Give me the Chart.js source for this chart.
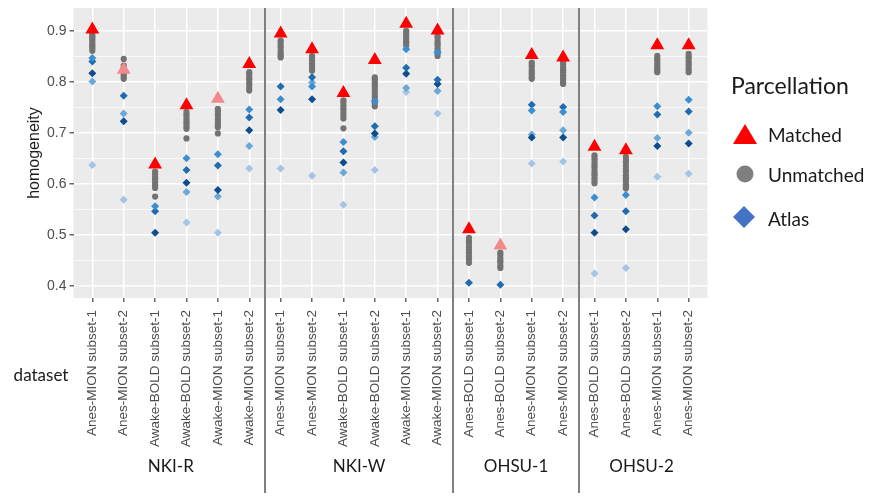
<!DOCTYPE html>
<html>
<head>
<meta charset="utf-8">
<script src="https://cdn.jsdelivr.net/npm/chart.js"></script>
<style>
  html, body { margin: 0; padding: 0; background: #fff; }
</style>
</head>
<body>
<canvas id="myChart" width="873" height="496"></canvas>
<script>
// categories on the x axis, grouped by dataset
const categories = [
    'Anes-MION subset-1', 'Anes-MION subset-2', 'Awake-BOLD subset-1', 'Awake-BOLD subset-2', 'Awake-MION subset-1', 'Awake-MION subset-2',
    'Anes-MION subset-1', 'Anes-MION subset-2', 'Awake-BOLD subset-1', 'Awake-BOLD subset-2', 'Awake-MION subset-1', 'Awake-MION subset-2',
    'Anes-BOLD subset-1', 'Anes-BOLD subset-2', 'Anes-MION subset-1', 'Anes-MION subset-2',
    'Anes-BOLD subset-1', 'Anes-BOLD subset-2', 'Anes-MION subset-1', 'Anes-MION subset-2'
];
const groups = ['NKI-R', 'NKI-W', 'OHSU-1', 'OHSU-2'];
const groupSizes = [6, 6, 4, 4];
const yTicks = [0.4, 0.45, 0.5, 0.55, 0.6, 0.65, 0.7, 0.75, 0.8, 0.85, 0.9];

// Matched parcellation (red triangles), the faded ones are separate
const matched = [0.903, null, 0.638, 0.754, null, 0.835, 0.895, 0.864, 0.778, 0.843, 0.914, 0.901, 0.511, null, 0.853, 0.848, 0.673, 0.666, 0.872, 0.872];
const matchedFaded = [null, 0.824, null, null, 0.767, null, null, null, null, null, null, null, null, 0.479, null, null, null, null, null, null];

// Unmatched parcellations (grey circles), one list per category
const unmatched = [
    [0.894, 0.890, 0.887, 0.883, 0.879, 0.874, 0.870, 0.866, 0.861],
    [0.845, 0.832, 0.827, 0.822, 0.818, 0.814, 0.810, 0.806],
    [0.624, 0.619, 0.613, 0.609, 0.603, 0.597, 0.592, 0.575],
    [0.741, 0.736, 0.732, 0.726, 0.721, 0.717, 0.712, 0.708, 0.689],
    [0.747, 0.743, 0.737, 0.733, 0.727, 0.722, 0.716, 0.711, 0.699],
    [0.819, 0.815, 0.809, 0.805, 0.799, 0.794, 0.788, 0.783],
    [0.881, 0.877, 0.871, 0.867, 0.861, 0.856, 0.852, 0.848],
    [0.851, 0.846, 0.842, 0.836, 0.831, 0.827, 0.822],
    [0.764, 0.760, 0.754, 0.749, 0.745, 0.739, 0.734, 0.728, 0.709],
    [0.809, 0.805, 0.799, 0.794, 0.790, 0.784, 0.779, 0.773, 0.769, 0.764, 0.758, 0.752],
    [0.900, 0.895, 0.891, 0.885, 0.880, 0.876, 0.871],
    [0.890, 0.886, 0.880, 0.875, 0.871, 0.865, 0.860, 0.856, 0.851],
    [0.494, 0.488, 0.483, 0.476, 0.470, 0.465, 0.458, 0.452, 0.445],
    [0.465, 0.461, 0.455, 0.450, 0.446, 0.440, 0.435],
    [0.838, 0.833, 0.829, 0.823, 0.818, 0.814, 0.809, 0.806],
    [0.838, 0.834, 0.828, 0.823, 0.819, 0.813, 0.808, 0.804, 0.799, 0.796],
    [0.656, 0.651, 0.647, 0.641, 0.636, 0.632, 0.626, 0.621, 0.617, 0.611, 0.606, 0.601],
    [0.653, 0.647, 0.642, 0.635, 0.629, 0.624, 0.617, 0.611, 0.606, 0.599, 0.595, 0.591],
    [0.851, 0.846, 0.842, 0.836, 0.831, 0.827, 0.822, 0.819],
    [0.855, 0.850, 0.846, 0.840, 0.835, 0.831, 0.825, 0.819]
];

// Atlas parcellations (blue diamonds), five atlases
const atlas1 = [0.847, null, 0.556, 0.650, 0.658, 0.746, 0.766, 0.791, 0.682, 0.762, 0.864, 0.858, null, null, 0.744, 0.741, 0.573, 0.578, 0.752, 0.765];
const atlas2 = [0.840, 0.773, 0.546, 0.627, 0.636, 0.730, 0.791, 0.809, 0.664, 0.713, 0.828, 0.804, 0.406, 0.402, 0.755, 0.751, 0.538, 0.546, 0.736, 0.742];
const atlas3 = [0.817, 0.723, 0.504, 0.602, 0.588, 0.705, 0.745, 0.766, 0.642, 0.699, 0.816, 0.796, null, null, 0.691, 0.691, 0.504, 0.511, 0.674, 0.679];
const atlas4 = [0.801, 0.738, null, 0.584, 0.575, 0.674, null, 0.799, 0.622, 0.692, 0.788, 0.782, null, null, 0.697, 0.705, null, null, 0.690, 0.700];
const atlas5 = [0.637, 0.569, null, 0.524, 0.504, 0.630, 0.630, 0.616, 0.559, 0.627, 0.780, 0.738, null, null, 0.640, 0.644, 0.424, 0.435, 0.614, 0.620];

const toPoints = (arr) => arr.map((v, i) => ({ x: i, y: v })).filter((p) => p.y !== null);
const unmatchedPoints = unmatched.flatMap((vals, i) => vals.map((v) => ({ x: i, y: v })));
const isMajor = (v) => Math.abs(v * 10 - Math.round(v * 10)) < 1e-6;

const atlasDataset = (arr, color) => ({
    label: 'Atlas',
    data: toPoints(arr),
    pointStyle: 'rectRot',
    pointRadius: 4,
    borderWidth: 0,
    backgroundColor: color,
});

// start index of each group, to place separators and labels
const groupStarts = [];
groupSizes.reduce((acc, n) => { groupStarts.push(acc); return acc + n; }, 0);

const decor = {
    id: 'decor',
    beforeDraw(chart) {
        const { ctx, chartArea } = chart;
        ctx.save();
        ctx.fillStyle = '#ebebeb';
        ctx.fillRect(chartArea.left, chartArea.top, chartArea.right - chartArea.left, chartArea.bottom - chartArea.top);
        ctx.restore();
    },
    beforeDatasetsDraw(chart) {
        const { ctx, chartArea, scales } = chart;
        ctx.save();
        ctx.strokeStyle = '#808080';
        ctx.lineWidth = 2;
        groupStarts.slice(1).forEach((s) => {
            const x = Math.round(scales.x.getPixelForValue(s - 0.5));
            ctx.beginPath();
            ctx.moveTo(x, chartArea.top);
            ctx.lineTo(x, 493);
            ctx.stroke();
        });
        ctx.restore();
    },
    afterDraw(chart) {
        const { ctx, scales } = chart;
        ctx.save();
        ctx.fillStyle = '#1a1a1a';
        ctx.textBaseline = 'middle';
        ctx.textAlign = 'center';
        ctx.font = '17px Lato';
        groups.forEach((g, i) => {
            const mid = groupStarts[i] + (groupSizes[i] - 1) / 2;
            ctx.fillText(g, scales.x.getPixelForValue(mid), 467);
        });
        ctx.fillText('dataset', 41, 376);

        // legend
        ctx.textAlign = 'left';
        ctx.font = '23px Lato';
        ctx.fillText('Parcellation', 731, 87);
        ctx.font = '19px Lato';
        ctx.fillText('Matched', 768, 136);
        ctx.fillText('Unmatched', 768, 176);
        ctx.fillText('Atlas', 768, 220);

        ctx.fillStyle = '#ff0000';
        ctx.beginPath();
        ctx.moveTo(745, 124);
        ctx.lineTo(757, 144);
        ctx.lineTo(733, 144);
        ctx.closePath();
        ctx.fill();

        ctx.fillStyle = '#7f7f7f';
        ctx.beginPath();
        ctx.arc(745, 174, 8.5, 0, Math.PI * 2);
        ctx.fill();

        ctx.fillStyle = '#4472c4';
        ctx.beginPath();
        ctx.moveTo(744, 206);
        ctx.lineTo(755, 217);
        ctx.lineTo(744, 228);
        ctx.lineTo(733, 217);
        ctx.closePath();
        ctx.fill();
        ctx.restore();
    }
};

const ctx = document.getElementById('myChart');

const myChart = new Chart(ctx, {
    type: 'scatter',
    data: {
        datasets: [
            {
                label: 'Matched',
                data: toPoints(matched),
                pointStyle: 'triangle',
                pointRadius: 8,
                borderWidth: 0,
                backgroundColor: '#ff0000',
            },
            {
                label: 'Matched',
                data: toPoints(matchedFaded),
                pointStyle: 'triangle',
                pointRadius: 8,
                borderWidth: 0,
                backgroundColor: '#f28a8c',
            },
            atlasDataset(atlas1, '#3b8ed0'),
            atlasDataset(atlas2, '#1f6cb0'),
            atlasDataset(atlas3, '#0b4d8e'),
            atlasDataset(atlas4, '#6ba8d8'),
            atlasDataset(atlas5, '#a5c3e5'),
            {
                label: 'Unmatched',
                data: unmatchedPoints,
                pointStyle: 'circle',
                pointRadius: 3.1,
                borderWidth: 0,
                backgroundColor: '#737373',
            },
        ],
    },
    options: {
        responsive: false,
        animation: false,
        events: [],
        layout: { padding: { left: 25, right: 165.5, top: 6, bottom: 0 } },
        plugins: {
            legend: { display: false },
            tooltip: { enabled: false },
        },
        scales: {
            x: {
                type: 'linear',
                min: -0.6,
                max: 19.6,
                afterBuildTicks: (s) => { s.ticks = categories.map((c, i) => ({ value: i })); },
                afterFit: (s) => { s.height = 198; s.paddingLeft = 0; s.paddingRight = 0; },
                border: { display: false },
                grid: { color: '#ffffff', lineWidth: 1.5, tickColor: '#666', tickLength: 4 },
                ticks: {
                    autoSkip: false,
                    minRotation: 90,
                    maxRotation: 90,
                    padding: 8,
                    color: '#4d4d4d',
                    font: { family: 'Liberation Sans', size: 13.5 },
                    callback: (v) => categories[v],
                },
            },
            y: {
                min: 0.376,
                max: 0.945,
                afterBuildTicks: (s) => { s.ticks = yTicks.map((v) => ({ value: v })); },
                afterFit: (s) => { s.width = 48.5; s.paddingTop = 0; s.paddingBottom = 0; },
                border: { display: false },
                grid: {
                    color: '#ffffff',
                    lineWidth: (c) => isMajor(c.tick.value) ? 1.5 : 0.7,
                    tickColor: (c) => isMajor(c.tick.value) ? '#666' : 'rgba(0,0,0,0)',
                    tickLength: 4,
                },
                ticks: {
                    padding: 3,
                    color: '#4d4d4d',
                    font: { family: 'Liberation Sans', size: 14 },
                    callback: (v) => isMajor(v) ? v.toFixed(1) : '',
                },
                title: {
                    display: true,
                    text: 'homogeneity',
                    color: '#1a1a1a',
                    padding: 0,
                    font: { family: 'Liberation Sans', size: 16 },
                },
            },
        },
    },
    plugins: [decor],
});
</script>
</body>
</html>
